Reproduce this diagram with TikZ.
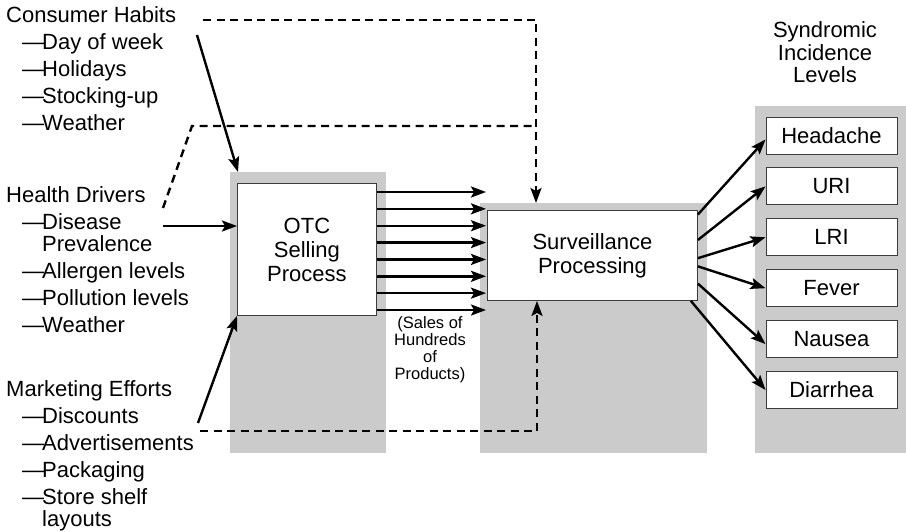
\documentclass[tikz,border=0pt]{standalone}
\usepackage{fontspec}
\setmainfont{Liberation Sans}
\usetikzlibrary{positioning, arrows.meta, calc}
\definecolor{panelgray}{RGB}{203,203,203}
\definecolor{boxline}{RGB}{60,60,60}

% one driver line, and the second line of a wrapped driver
\newcommand{\factor}[1]{\hspace*{16pt}---\kern-2pt#1}
\newcommand{\factorcont}[1]{\hspace*{36pt}#1}

\begin{document}
\begin{tikzpicture}[x=1pt, y=-1pt,
    every node/.style={inner sep=0pt},
    panel/.style={fill=panelgray, anchor=north west},
    stage/.style={draw=boxline, fill=white, line width=0.9pt,
                  anchor=north west, align=center,
                  font=\fontsize{22}{24}\selectfont},
    level/.style={draw=boxline, fill=white, line width=0.9pt,
                  minimum width=131pt, minimum height=37pt,
                  font=\fontsize{22}{22}\selectfont},
    factors/.style={anchor=north west, align=left,
                    font=\fontsize{22}{22}\selectfont},
    flow/.style={-{Stealth[length=15pt, width=11pt, inset=3pt]}, line width=2.4pt},
    influence/.style={flow, dash pattern=on 8pt off 5.5pt},
]
\useasboundingbox (0,0) rectangle (906,532);

% ─── grey backdrops ──────────────────────────────────────────────
\node[panel, minimum width=156pt, minimum height=281pt] (otcbg)   at (230,172) {};
\node[panel, minimum width=227pt, minimum height=250pt] (survbg)  at (480,203) {};
\node[panel, minimum width=151pt, minimum height=347pt] (levelbg) at (755,106) {};

% ─── the two processing stages ───────────────────────────────────
\node[stage, minimum width=139pt, minimum height=132pt] (otc) at (237,183)
  {OTC\\Selling\\Process};
\node[stage, minimum width=210pt, minimum height=90pt] (surv) at (487,210)
  {Surveillance\\Processing};

% ─── driver lists ────────────────────────────────────────────────
\node[factors] (habits) at (6,6.5) {%
  Consumer Habits\\[5pt]
  \factor{Day of week}\\[5pt]
  \factor{Holidays}\\[5pt]
  \factor{Stocking-up}\\[5pt]
  \factor{Weather}};

\node[factors] (health) at (6,186.5) {%
  Health Drivers\\[5pt]
  \factor{Disease}\\
  \factorcont{Prevalence}\\[5pt]
  \factor{Allergen levels}\\[5pt]
  \factor{Pollution levels}\\[5pt]
  \factor{Weather}};

\node[factors] (marketing) at (6,380) {%
  Marketing Efforts\\[5pt]
  \factor{Discounts}\\[5pt]
  \factor{Advertisements}\\[5pt]
  \factor{Packaging}\\[5pt]
  \factor{Store shelf}\\
  \factorcont{layouts}};

% ─── syndrome levels ─────────────────────────────────────────────
\node[align=center, anchor=north, font=\fontsize{22}{22.5}\selectfont]
  (levelstitle) at (825,21.5) {Syndromic\\Incidence\\Levels};

\node[level] (headache) at (831.5,135.5) {Headache};
\node[level, below=13pt of headache] (uri)      {URI};
\node[level, below=13pt of uri]      (lri)      {LRI};
\node[level, below=13pt of lri]      (fever)    {Fever};
\node[level, below=13pt of fever]    (nausea)   {Nausea};
\node[level, below=13pt of nausea]   (diarrhea) {Diarrhea};

\node[align=center, anchor=north, font=\fontsize{16.5}{17}\selectfont]
  (salesnote) at (430,316) {(Sales of\\Hundreds\\of\\Products)};

% ─── loose ends of the driver arrows ─────────────────────────────
\coordinate (habitsin)   at (197,35);
\coordinate (habitsout)  at (203,20);
\coordinate (healthout)  at (163,208);
\coordinate (healthbend) at (192,126);
\coordinate (diseaseout) at (163,226);
\coordinate (mktout)     at (198,423);
\coordinate (adsout)     at (200,431);
\coordinate (feedin)     at ([xshift=56pt]survbg.north west);

% drivers -> selling
\draw[flow] (habitsin) -- ([xshift=8pt]otcbg.north west);
\draw[flow] (diseaseout) -- (otc.west |- diseaseout);
\draw[flow] (mktout) -- (otc.south west);

% drivers -> surveillance (dashed)
\draw[influence] (habitsout) -| (feedin);
\draw[influence, -] (healthout) -- (healthbend) -- (healthbend -| feedin);
\draw[influence] (adsout) -| ([xshift=50pt]surv.south west);

% product sales
\foreach \k [evaluate=\k as \ry using 192+16.86*\k] in {0,...,7}
  \draw[flow] (otc.east |- 0,\ry) -- ([xshift=-1pt]surv.west |- 0,\ry);

% surveillance -> syndromes
\draw[flow] ($(surv.north east)!0.05!(surv.south east)$) -- ([yshift=-4pt]headache.west);
\draw[flow] ($(surv.north east)!0.33!(surv.south east)$) -- (uri.west);
\draw[flow] ($(surv.north east)!0.53!(surv.south east)$) -- (lri.west);
\draw[flow] ($(surv.north east)!0.62!(surv.south east)$) -- (fever.west);
\draw[flow] ($(surv.north east)!0.81!(surv.south east)$) -- ([yshift=-5pt]nausea.west);
\draw[flow] ([xshift=-7pt]surv.south east) -- (diarrhea.west);

\end{tikzpicture}
\end{document}
